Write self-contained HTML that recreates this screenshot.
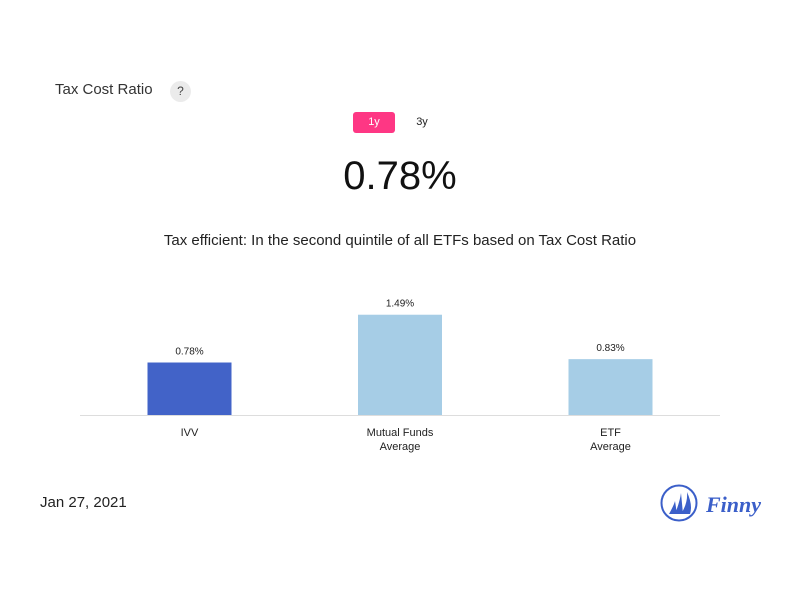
<!DOCTYPE html>
<html><head><meta charset="utf-8"><style>
body{margin:0;width:800px;height:600px;background:#fff;font-family:"Liberation Sans",sans-serif;position:relative;overflow:hidden;color:#222}
.abs{position:absolute}
</style></head><body>
<div class="abs" style="left:55px;top:81px;font-size:15px;color:#333">Tax Cost Ratio</div>
<div class="abs" style="left:170px;top:81px;width:21px;height:21px;border-radius:50%;background:#ebebeb;font-size:12px;text-align:center;line-height:21px;color:#444">?</div>
<div class="abs" style="left:353px;top:112px;width:42px;height:21px;border-radius:3px;background:#fe3784;color:#fff;font-size:11px;text-align:center;line-height:21px">1y</div>
<div class="abs" style="left:401px;top:112px;width:42px;height:21px;color:#222;font-size:11px;text-align:center;line-height:21px">3y</div>
<div class="abs" style="left:0;width:800px;top:154px;text-align:center;font-size:40px;color:#111">0.78%</div>
<div class="abs" style="left:0;width:800px;top:232px;text-align:center;font-size:15px;color:#222">Tax efficient: In the second quintile of all ETFs based on Tax Cost Ratio</div>
<svg class="abs" style="left:0;top:0" width="800" height="600" id="chart"></svg>
<div class="abs" style="left:40px;top:494px;font-size:15px;color:#222">Jan 27, 2021</div>
<svg class="abs" style="left:660px;top:483px" width="105" height="40">
<circle cx="19" cy="20" r="17.5" fill="none" stroke="#3b5fc9" stroke-width="2"/>
<path d="M9 31 Q14 22 15 18 L17 31Z M15 31 Q20 18 21 10 L23 31Z M21 31 Q28 20 27 9 Q33 22 30 31Z" fill="#3b5fc9"/>
<text x="46" y="29" font-family="Liberation Serif,serif" font-style="italic" font-weight="bold" font-size="22" fill="#3b5fc9">Finny</text>
</svg>
<script>
const categories=["IVV","Mutual Funds|Average","ETF|Average"];
const values=[0.78,1.49,0.83];
const labels=["0.78%","1.49%","0.83%"];
const colors=["#4263c8","#a6cde6","#a6cde6"];
const svg=document.getElementById('chart');const NS='http://www.w3.org/2000/svg';
const base=415,scale=67.3,x0=189.5,step=210.5,bw=84;
function y(v){return base-v*scale}
function x(i){return x0+i*step}
function mk(t,a){const e=document.createElementNS(NS,t);for(const k in a)e.setAttribute(k,a[k]);svg.appendChild(e);return e}
values.forEach((v,i)=>{
const r=mk('rect',{x:x(i)-bw/2,y:y(v),width:bw,height:base-y(v),fill:colors[i]});


const t=mk('text',{x:x(i),y:y(v)-8,'text-anchor':'middle','font-size':10,fill:'#222'});t.textContent=labels[i];


categories[i].split('|').forEach((s,j)=>{const c=mk('text',{x:x(i),y:436+j*14,'text-anchor':'middle','font-size':11,fill:'#222'});c.textContent=s;

});
});
const ax=mk('line',{x1:80,x2:720,y1:base+0.5,y2:base+0.5,stroke:'#ddd'});


</script>
</body></html>
